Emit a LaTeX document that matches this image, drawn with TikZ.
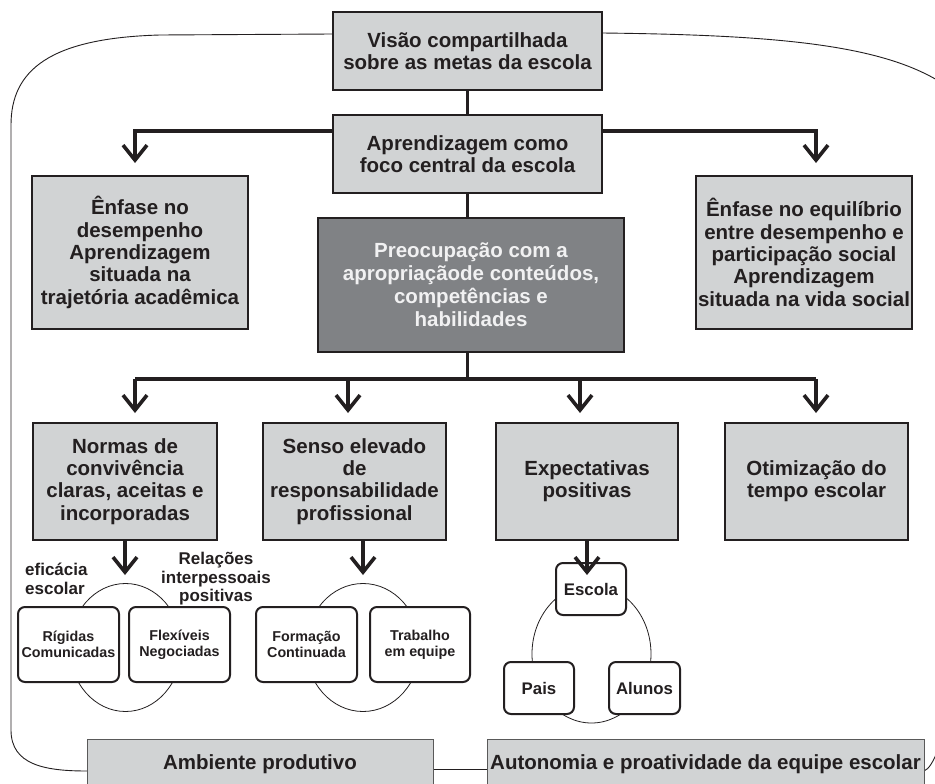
\documentclass[tikz,border=0pt]{standalone}
\usepackage{fontspec}
\setmainfont{Liberation Sans}
\usetikzlibrary{arrows.meta}
\definecolor{boxgray}{HTML}{D1D3D4}
\definecolor{darkbox}{HTML}{808285}
\definecolor{ink}{HTML}{231F20}
\definecolor{paletext}{HTML}{F1F1F2}
\begin{document}
\begin{tikzpicture}[x=1pt,y=-1pt,
  sz/.style 2 args={minimum width=#1pt, minimum height=#2pt},
  lbox/.style={draw=ink, line width=1.3pt, fill=boxgray, align=center, inner sep=0pt,
    font=\fontsize{20.5}{22.3}\selectfont\bfseries, text=ink},
  dbox/.style={lbox, fill=darkbox, text=paletext, font=\fontsize{20.5}{23}\selectfont\bfseries},
  bbox/.style={lbox, draw=black!65, line width=1pt},
  rbox/.style={draw=ink, line width=2pt, fill=white, rounded corners=7pt, align=center, inner sep=0pt,
    font=\fontsize{14.3}{16}\selectfont\bfseries, text=ink},
  rboxb/.style={rbox, font=\fontsize{16.8}{18}\selectfont\bfseries},
  lbl/.style={align=center, inner sep=0pt, font=\fontsize{17}{18.5}\selectfont\bfseries, text=ink},
  conn/.style={draw=ink, line width=3.6pt, line join=miter},
  arr/.style={conn, -{Straight Barb[length=15pt,width=24pt,line join=miter]}},
  frame/.style={draw=ink, line width=0.9pt},
  ring/.style={draw=ink, line width=0.8pt}]
\clip (0,0) rectangle (935,784);
\fill[white] (0,0) rectangle (935,784);

% frame
\coordinate (fTL) at (333,34);
\coordinate (fTR) at (602,33);
\coordinate (fBL) at (87,771);
\coordinate (fBR) at (924,771);
\draw[frame] (fTL) -- (160,35) .. controls (50,38) and (11,70) .. (11,125) -- (11,730)
  .. controls (11,765) and (45,771) .. (fBL);
\draw[frame] (fTR) .. controls (780,35) and (885,45) .. (945,85);
\draw[frame] (fBR) .. controls (929,769) and (933,762) .. (938,750);
\coordinate (mA) at (433,769);
\coordinate (mB) at (487,769);
\draw[frame] (mA) -- (mB);

% main boxes
\node[lbox, sz={269}{78}] (visao) at (467.5,51) {Visão compartilhada\\sobre as metas da escola};
\node[lbox, sz={269}{78}] (aprend) at (467.5,154) {Aprendizagem como\\foco central da escola};
\node[lbox, sz={216}{153}] (enfL) at (140,252.5) {Ênfase no\\desempenho\\Aprendizagem\\situada na\\trajetória acadêmica};
\node[lbox, sz={216}{153}] (enfR) at (804,252.5) {Ênfase no equilíbrio\\entre desempenho e\\participação social\\Aprendizagem\\situada na vida social};
\node[dbox, sz={306}{134}] (preoc) at (471,285) {Preocupação com a\\apropriaçãode conteúdos,\\competências e\\habilidades};
\node[lbox, sz={184}{117}] (normas) at (125,481.5) {Normas de\\convivência\\claras, aceitas e\\incorporadas};
\node[lbox, sz={183}{117}] (senso) at (354.5,481.5) {Senso elevado\\de\\responsabilidade\\profissional};
\node[lbox, sz={182}{117}] (expect) at (587,481.5) {Expectativas\\positivas};
\node[lbox, sz={183}{117}] (otim) at (816.5,481.5) {Otimização do\\tempo escolar};
\node[bbox, sz={346}{51}] (amb) at (260,764.5) {Ambiente produtivo};
\node[bbox, sz={437}{51}] (auto) at (705.5,764.5) {Autonomia e proatividade da equipe escolar};

% connectors top
\draw[conn] (visao) -- (aprend);
\draw[conn] (aprend.south) -- (aprend.south |- preoc.north);
\coordinate (hL) at (135,131);
\coordinate (hR) at (816,131);
\coordinate (tL) at (135,163);
\coordinate (tR) at (816,163);
\draw[arr] (aprend.west |- hL) -| (tL);
\draw[arr] (aprend.east |- hR) -| (tR);

% connectors row
\coordinate (b1) at (135,379);
\coordinate (b4) at (816,379);
\coordinate (t1) at (135,413);
\coordinate (t2) at (348,413);
\coordinate (t3) at (580,413);
\coordinate (t4) at (816,413);
\draw[conn] (aprend.south |- preoc.south) -- (aprend.south |- b1);
\draw[conn] (b1) -- (b4);
\draw[arr] (b1) -- (t1);
\draw[arr] (t2 |- b1) -- (t2);
\draw[arr] (t3 |- b1) -- (t3);
\draw[arr] (b4) -- (t4);

% ellipses
\draw[ring] (125.5,647.5) ellipse [x radius=56pt, y radius=64pt];
\draw[ring] (363,647.5) ellipse [x radius=57pt, y radius=64pt];
\draw[ring] (591.5,654) ellipse [x radius=59.5pt, y radius=69pt];

% small boxes
\node[rbox, sz={101}{75}] (rig) at (68.5,644.5) {Rígidas\\Comunicadas};
\node[rbox, sz={101}{75}] (flex) at (179.5,644.5) {Flexíveis\\Negociadas};
\node[rbox, sz={101}{75}] (form) at (306.5,644.5) {Formação\\Continuada};
\node[rbox, sz={100}{75}] (trab) at (420,644.5) {Trabalho\\em equipe};
\node[rboxb, sz={70}{52}] (escola) at (591,589) {Escola};
\node[rboxb, sz={70}{52}] (pais) at (539,688) {Pais};
\node[rboxb, sz={71}{52}] (alunos) at (644.5,688) {Alunos};

% labels
\node[lbl, anchor=west, align=left] (efic) at (25,579) {eficácia\\escolar};
\node[lbl] (rel) at (216,579) {Relações\\interpessoais\\positivas};

% lower arrows
\coordinate (u1) at (125,575);
\coordinate (u2) at (363,575);
\coordinate (u3) at (587,575);
\draw[arr] (normas.south) -- (u1);
\draw[arr] (senso.south -| u2) -- (u2);
\draw[arr] (expect.south) -- (u3);
\end{tikzpicture}
\end{document}
